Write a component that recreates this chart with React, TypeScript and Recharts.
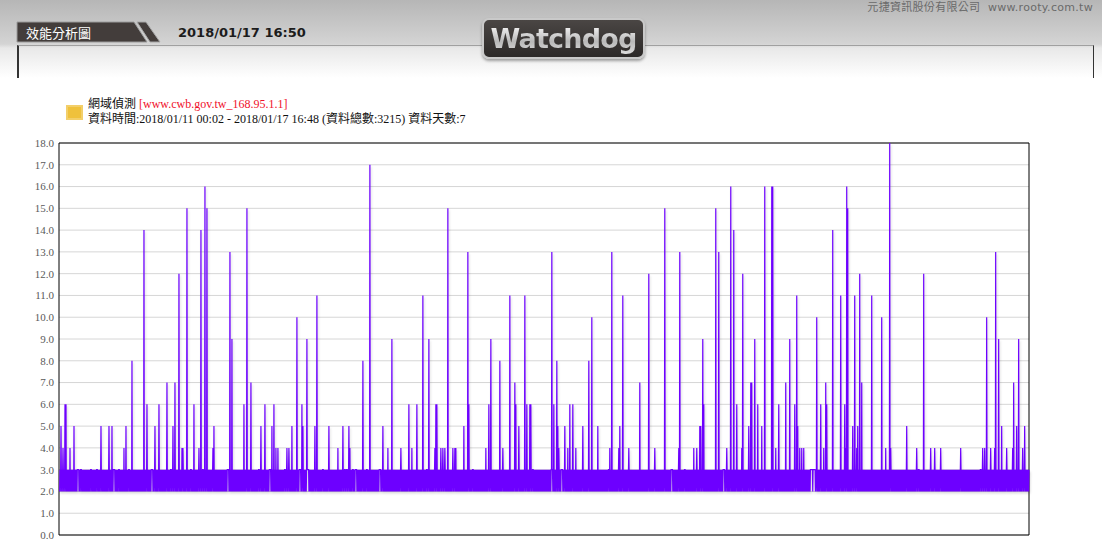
import React from 'react';
import { LineChart, Line, XAxis, YAxis, CartesianGrid, ReferenceArea } from 'recharts';

// 7 days of samples grouped into 970 time slots (one per plot pixel), 3 readings per slot
const SLOTS = 970;
const READS_PER_SLOT = 3;
// the response time keeps flipping between these two levels
const baseLevels = [2, 3];

// slots where the response time jumps above the 2-3 band
const spikeSlots = [
  1, 3, 5, 6, 10, 14, 41, 49, 52, 64, 66, 72, 84, 87, 95, 99, 107, 113, 115, 119, 122, 123, 127, 134, 139,
  141, 145, 147, 153, 154, 170, 172, 184, 187, 191, 201, 205, 212, 214, 216, 218, 227, 229, 232, 237, 242,
  243, 247, 255, 257, 269, 278, 283, 289, 290, 303, 310, 323, 328, 332, 341, 349, 352, 357, 363, 369, 375,
  376, 377, 381, 383, 385, 388, 393, 395, 396, 404, 408, 409, 426, 429, 431, 440, 443, 450, 455, 456, 459,
  465, 467, 470, 471, 492, 494, 497, 498, 499, 505, 508, 510, 513, 516, 523, 529, 532, 538, 550, 552, 559,
  560, 563, 569, 580, 589, 595, 605, 619, 620, 634, 637, 640, 641, 643, 644, 656, 659, 667, 671, 674, 677,
  682, 683, 689, 691, 692, 695, 698, 702, 705, 712, 713, 716, 719, 726, 730, 735, 737, 738, 740, 742, 744,
  757, 761, 764, 766, 767, 773, 781, 785, 786, 787, 788, 793, 795, 797, 798, 800, 802, 812, 822, 826, 830,
  831, 847, 857, 864, 871, 875, 881, 901, 923, 925, 927, 931, 935, 936, 939, 942, 947, 953, 954, 957, 959,
  963, 965,
];
const spikeValues = [
  5, 4, 6, 6, 4, 5, 5, 5, 5, 4, 5, 8, 14, 6, 5, 6, 7, 5, 7, 12, 4, 4, 15, 6, 4,
  14, 16, 15, 4, 5, 13, 9, 6, 15, 7, 5, 6, 5, 6, 4, 4, 4, 4, 5, 10, 6,
  5, 9, 5, 11, 5, 4, 5, 5, 4, 8, 17, 5, 4, 9, 4, 6, 4, 6, 11, 9, 4,
  6, 6, 4, 4, 4, 15, 4, 4, 4, 5, 13, 6, 4, 6, 9, 8, 4, 11, 7, 6, 5,
  11, 6, 6, 6, 13, 6, 8, 5, 4, 5, 4, 6, 6, 4, 5, 8, 10, 5, 4, 13, 4,
  5, 11, 4, 7, 12, 4, 15, 4, 13, 4, 4, 5, 5, 9, 6, 15, 13, 4, 16, 14, 6,
  4, 12, 5, 7, 7, 9, 6, 5, 16, 16, 16, 4, 6, 7, 9, 6, 11, 5, 4, 4, 4,
  10, 6, 4, 7, 6, 14, 11, 6, 4, 16, 15, 5, 11, 4, 5, 12, 7, 11, 10, 4, 18,
  4, 5, 4, 12, 4, 4, 4, 4, 4, 4, 10, 4, 4, 13, 9, 5, 4, 4, 7, 5, 9,
  4, 5,
];

// slots where the value held steady at 3 (thin white gaps in the band)
const steadySlots = [
  18, 21, 31, 37, 54, 59, 69, 92, 111, 131, 143, 168, 199, 210, 225, 240, 248, 263, 283, 285, 287, 293,
  296, 307, 320, 367, 413, 473, 492, 502, 549, 595, 612, 625, 664, 751, 752, 754, 755, 859, 921,
];

const yTicks = [0, 1, 2, 3, 4, 5, 6, 7, 8, 9, 10, 11, 12, 13, 14, 15, 16, 17, 18];

const spikeMap = new Map(spikeSlots.map((s, k) => [s, spikeValues[k]]));
const steadySet = new Set(steadySlots);
const data: { t: number; v: number }[] = [];
for (let s = 0; s < SLOTS; s++) {
  for (let k = 0; k < READS_PER_SLOT; k++) {
    const n = s * READS_PER_SLOT + k;
    const spike = k === 1 ? spikeMap.get(s) : undefined;
    const base = steadySet.has(s) ? baseLevels[1] : baseLevels[n % 2];
    data.push({ t: s + (k - 1) / READS_PER_SLOT, v: spike ?? base });
  }
}

const cjk = "'Noto Sans CJK TC', 'Noto Sans CJK SC', sans-serif";
const serif = "'Liberation Serif', 'Noto Sans CJK TC', serif";

const Header = () => (
  <div style={{ position: 'absolute', left: 0, top: 0, width: 1102, height: 78,
    background: 'linear-gradient(#b6b6b6 0px, #d4d4d4 44px, #e8e8e8 48px, #ffffff 78px)' }}>
    <div style={{ position: 'absolute', right: 9, top: -2, fontSize: 11, color: '#6a6a6a',
      fontFamily: "'DejaVu Sans', 'Noto Sans CJK TC', sans-serif", letterSpacing: 0.3 }}>
      元捷資訊股份有限公司&nbsp; www.rooty.com.tw
    </div>
    {/* box under the title bar */}
    <div style={{ position: 'absolute', left: 17, top: 45, width: 1074, height: 32,
      borderTop: '1px solid #a0a0a0', borderLeft: '2px solid #333', borderRight: '1px solid #333' }} />
    <svg width={170} height={46} style={{ position: 'absolute', left: 0, top: 0 }}>
      <polygon points="17,22 134,22 147,42 17,42" fill="#433d3b" stroke="#9c9c9c" strokeWidth={1} />
      <polygon points="137,22 146,22 160,42 150,42" fill="#433d3b" stroke="#a8a8a8" strokeWidth={1} />
    </svg>
    <div style={{ position: 'absolute', left: 26, top: 24, fontSize: 13, color: '#fff', fontFamily: cjk,
      lineHeight: '17px' }}>
      效能分析圖
    </div>
    <div style={{ position: 'absolute', left: 178, top: 25, fontSize: 13, fontWeight: 'bold', color: '#1c1c1c',
      fontFamily: "'DejaVu Sans', sans-serif", lineHeight: '16px' }}>
      2018/01/17 16:50
    </div>
    {/* Watchdog badge */}
    <div style={{ position: 'absolute', left: 482, top: 18, width: 159, height: 37, borderRadius: 7,
      background: 'linear-gradient(#4a4644, #2c2928)', border: '2px solid #c9c9c9',
      boxShadow: '0 2px 3px rgba(0,0,0,0.35)', display: 'flex', alignItems: 'center', justifyContent: 'center' }}>
      <span style={{ fontFamily: "'DejaVu Sans', sans-serif", fontWeight: 'bold', fontSize: 27,
        letterSpacing: -0.8, color: '#e4e4e4',
        background: 'linear-gradient(#ffffff, #b8b8b8 60%, #dcdcdc)', WebkitBackgroundClip: 'text',
        WebkitTextFillColor: 'transparent' }}>
        Watchdog
      </span>
    </div>
  </div>
);

const LegendBox = () => (
  <div style={{ position: 'absolute', left: 66, top: 95, fontFamily: serif, fontSize: 12, color: '#111' }}>
    <div style={{ position: 'absolute', left: 0, top: 10, width: 13, height: 11, background: '#efc13c',
      border: '2px solid #f3cf6a' }} />
    <div style={{ position: 'absolute', left: 22, top: 0, whiteSpace: 'nowrap', lineHeight: '15px' }}>
      <div>
        <span style={{ fontFamily: cjk }}>網域偵測</span>{' '}
        <span style={{ color: '#f0102a' }}>[www.cwb.gov.tw_168.95.1.1]</span>
      </div>
      <div>資料時間:2018/01/11 00:02 - 2018/01/17 16:48 (資料總數:3215) 資料天數:7</div>
    </div>
  </div>
);

export default function App() {
  return (
    <div style={{ position: 'absolute', left: 0, top: 0, width: 1102, height: 553, background: '#fff',
      overflow: 'hidden' }}>
      <style>{`.resp-line .recharts-line-curve { filter: drop-shadow(1px 2px 1px rgba(0,0,0,0.14)); }`}</style>
      <Header />
      <LegendBox />
      <div style={{ position: 'absolute', left: 0, top: 0 }}>
        <LineChart width={1102} height={553} data={data} margin={{ top: 143, right: 73, bottom: 18, left: 0 }}>
          <CartesianGrid vertical={false} stroke="#d6d6d6" strokeWidth={1} />
          <XAxis dataKey="t" type="number" domain={[-1, SLOTS - 1]} hide />
          <YAxis
            type="number"
            domain={[0, 18]}
            ticks={yTicks}
            width={59}
            axisLine={false}
            tickLine={false}
            tickSize={3}
            tickMargin={2}
            interval={0}
            tickFormatter={(v: number) => v.toFixed(1)}
            tick={{ fontSize: 11, fill: '#5a5a5a', fontFamily: "'Liberation Serif', serif" }}
          />
          <Line
            className="resp-line"
            type="linear"
            dataKey="v"
            stroke="#6d00ff"
            strokeWidth={1.2}
            dot={false}
            activeDot={false}
            isAnimationActive={false}
          />
          <ReferenceArea y1={0} y2={18} fill="none" stroke="#000" strokeWidth={1} ifOverflow="visible" />
        </LineChart>
      </div>
    </div>
  );
}
